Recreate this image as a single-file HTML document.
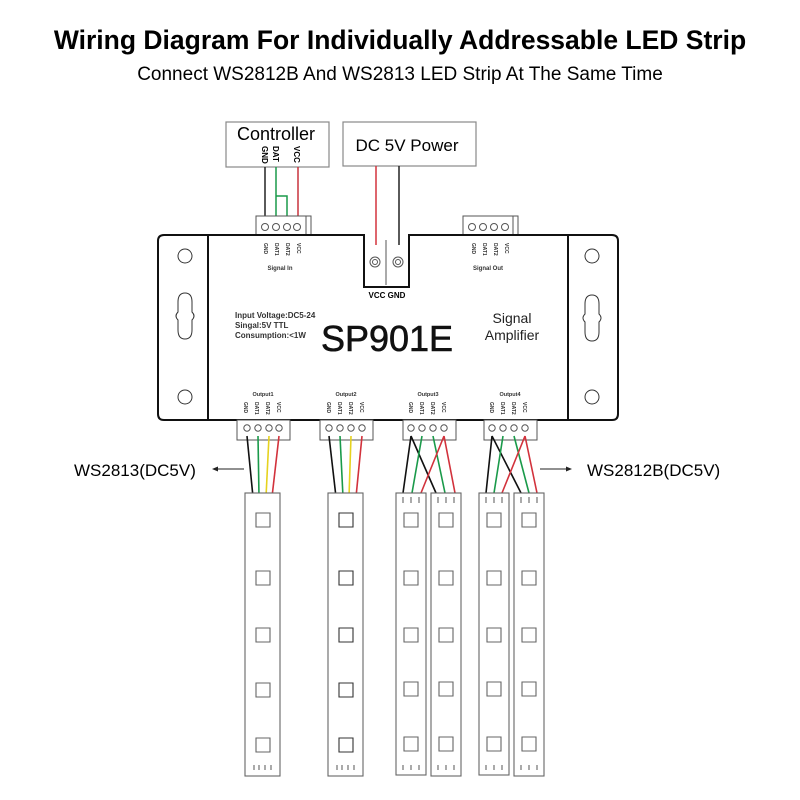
<!DOCTYPE html>
<html><head><meta charset="utf-8"><style>
html,body{margin:0;padding:0;background:#fff;}
svg{display:block;}
text{font-family:"Liberation Sans",sans-serif;}
</style></head><body>
<svg width="800" height="800" viewBox="0 0 800 800" xmlns="http://www.w3.org/2000/svg">
<text x="400" y="49" text-anchor="middle" font-size="26.5" font-weight="bold" fill="#000">Wiring Diagram For Individually Addressable LED Strip</text>
<text x="400" y="80" text-anchor="middle" font-size="19" fill="#000">Connect WS2812B And WS2813 LED Strip At The Same Time</text>

<rect x="226" y="122" width="103" height="45" fill="#fff" stroke="#888" stroke-width="1.2"/>
<text x="276" y="140" text-anchor="middle" font-size="18">Controller</text>
<g font-size="8" font-weight="bold">
<text transform="translate(262,146) rotate(90)">GND</text>
<text transform="translate(273,146) rotate(90)">DAT</text>
<text transform="translate(294,146) rotate(90)">VCC</text>
</g>
<rect x="343" y="122" width="133" height="44" fill="#fff" stroke="#888" stroke-width="1.2"/>
<text x="407" y="151" text-anchor="middle" font-size="17">DC 5V Power</text>

<path d="M265 167V218" stroke="#222" stroke-width="1.5" fill="none"/>
<path d="M276 167V218M276 196H287V218" stroke="#1a9a4a" stroke-width="1.5" fill="none"/>
<path d="M298 167V218" stroke="#c8323c" stroke-width="1.5" fill="none"/>
<path d="M376 166V245" stroke="#d2323c" stroke-width="1.5"/>
<path d="M399 166V245" stroke="#222" stroke-width="1.5"/>

<g stroke="#555" fill="#fff" stroke-width="1">
<rect x="256" y="216" width="55" height="19"/><line x1="306" y1="216" x2="306" y2="235"/>
<circle cx="265" cy="227" r="3.5"/><circle cx="276" cy="227" r="3.5"/><circle cx="287" cy="227" r="3.5"/><circle cx="297" cy="227" r="3.5"/>
<rect x="463" y="216" width="55" height="19"/><line x1="513" y1="216" x2="513" y2="235"/>
<circle cx="472" cy="227" r="3.5"/><circle cx="483" cy="227" r="3.5"/><circle cx="494" cy="227" r="3.5"/><circle cx="505" cy="227" r="3.5"/>
</g>

<path d="M164 235H364V287H409V235H612Q618 235 618 241V414Q618 420 612 420H164Q158 420 158 414V241Q158 235 164 235Z" fill="#fff" stroke="#111" stroke-width="2"/>
<line x1="208" y1="235" x2="208" y2="420" stroke="#111" stroke-width="2"/>
<line x1="568" y1="235" x2="568" y2="420" stroke="#111" stroke-width="2"/>
<g stroke="#333" fill="none" stroke-width="1">
<circle cx="185" cy="256" r="7"/><circle cx="185" cy="397" r="7"/>
<circle cx="592" cy="256" r="7"/><circle cx="592" cy="397" r="7"/>
<path d="M185 293q-7 0-7 9v10q-4 4 0 8v10q0 9 7 9q7 0 7-9v-10q4-4 0-8v-10q0-9-7-9z"/>
<path d="M592 295q-7 0-7 9v10q-4 4 0 8v10q0 9 7 9q7 0 7-9v-10q4-4 0-8v-10q0-9-7-9z"/>
</g>
<g stroke="#555" fill="#fff" stroke-width="1">
<line x1="386" y1="240" x2="386" y2="285"/>
<circle cx="375" cy="262" r="5"/><circle cx="398" cy="262" r="5"/>
<circle cx="375" cy="262" r="2.5"/><circle cx="398" cy="262" r="2.5"/>
</g>
<text x="387" y="298" text-anchor="middle" font-size="8" font-weight="bold">VCC  GND</text>

<g font-size="5" font-weight="bold" fill="#333">
<text transform="translate(264,243) rotate(90)">GND</text><text transform="translate(275,243) rotate(90)">DAT1</text><text transform="translate(286,243) rotate(90)">DAT2</text><text transform="translate(297,243) rotate(90)">VCC</text>
<text transform="translate(472,243) rotate(90)">GND</text><text transform="translate(483,243) rotate(90)">DAT1</text><text transform="translate(494,243) rotate(90)">DAT2</text><text transform="translate(505,243) rotate(90)">VCC</text>
</g>
<text x="280" y="270" text-anchor="middle" font-size="6" font-weight="bold" fill="#333">Signal In</text>
<text x="488" y="270" text-anchor="middle" font-size="6" font-weight="bold" fill="#333">Signal Out</text>

<g font-size="8" font-weight="bold" fill="#333">
<text x="235" y="318">Input Voltage:DC5-24</text>
<text x="235" y="328">Singal:5V TTL</text>
<text x="235" y="338">Consumption:&lt;1W</text>
</g>
<text x="387" y="351" text-anchor="middle" font-size="36" fill="#111" stroke="#111" stroke-width="0.6" font-family="DejaVu Sans, sans-serif">SP901E</text>
<text x="512" y="323" text-anchor="middle" font-size="14" fill="#222" font-family="DejaVu Sans, sans-serif">Signal</text>
<text x="512" y="340" text-anchor="middle" font-size="14" fill="#222" font-family="DejaVu Sans, sans-serif">Amplifier</text>

<g font-size="5.5" font-weight="bold" fill="#333">
<text x="263" y="396" text-anchor="middle">Output1</text>
<text x="346" y="396" text-anchor="middle">Output2</text>
<text x="428" y="396" text-anchor="middle">Output3</text>
<text x="510" y="396" text-anchor="middle">Output4</text>
<g font-size="5">
<text transform="translate(244,402) rotate(90)">GND</text><text transform="translate(255,402) rotate(90)">DAT1</text><text transform="translate(266,402) rotate(90)">DAT2</text><text transform="translate(277,402) rotate(90)">VCC</text>
<text transform="translate(327,402) rotate(90)">GND</text><text transform="translate(338,402) rotate(90)">DAT1</text><text transform="translate(349,402) rotate(90)">DAT2</text><text transform="translate(360,402) rotate(90)">VCC</text>
<text transform="translate(409,402) rotate(90)">GND</text><text transform="translate(420,402) rotate(90)">DAT1</text><text transform="translate(431,402) rotate(90)">DAT2</text><text transform="translate(442,402) rotate(90)">VCC</text>
<text transform="translate(490,402) rotate(90)">GND</text><text transform="translate(501,402) rotate(90)">DAT1</text><text transform="translate(512,402) rotate(90)">DAT2</text><text transform="translate(523,402) rotate(90)">VCC</text>
</g></g>
<g stroke="#555" fill="#fff" stroke-width="1">
<rect x="237" y="420" width="53" height="20"/><rect x="320" y="420" width="53" height="20"/><rect x="403" y="420" width="53" height="20"/><rect x="484" y="420" width="53" height="20"/>
<g fill="none">
<circle cx="247" cy="428" r="3.2"/><circle cx="258" cy="428" r="3.2"/><circle cx="269" cy="428" r="3.2"/><circle cx="279" cy="428" r="3.2"/>
<circle cx="329" cy="428" r="3.2"/><circle cx="340" cy="428" r="3.2"/><circle cx="351" cy="428" r="3.2"/><circle cx="362" cy="428" r="3.2"/>
<circle cx="411" cy="428" r="3.2"/><circle cx="422" cy="428" r="3.2"/><circle cx="433" cy="428" r="3.2"/><circle cx="444" cy="428" r="3.2"/>
<circle cx="492" cy="428" r="3.2"/><circle cx="503" cy="428" r="3.2"/><circle cx="514" cy="428" r="3.2"/><circle cx="525" cy="428" r="3.2"/>
</g></g>

<g stroke-width="1.6" fill="none">
<path d="M247 436L253 497" stroke="#111"/><path d="M258 436L259 497" stroke="#1a9a4a"/><path d="M269 436L266 497" stroke="#e6d21e"/><path d="M279 436L272 497" stroke="#d2323c"/>
<path d="M329 436L336 497" stroke="#111"/><path d="M340 436L343 497" stroke="#1a9a4a"/><path d="M351 436L349 497" stroke="#e6d21e"/><path d="M362 436L356 497" stroke="#d2323c"/>
<path d="M411 436L403 493M411 436L436 493" stroke="#111"/>
<path d="M422 436L412 493M433 436L445 493" stroke="#1a9a4a"/>
<path d="M444 436L421 493M444 436L455 493" stroke="#d2323c"/>
<path d="M492 436L486 493M492 436L521 493" stroke="#111"/>
<path d="M503 436L494 493M514 436L529 493" stroke="#1a9a4a"/>
<path d="M525 436L502 493M525 436L537 493" stroke="#d2323c"/>
</g>

<line x1="244" y1="469" x2="216" y2="469" stroke="#222" stroke-width="1"/>
<path d="M212 469l6-2.5v5z" fill="#222"/>
<line x1="540" y1="469" x2="568" y2="469" stroke="#222" stroke-width="1"/>
<path d="M572 469l-6-2.5v5z" fill="#222"/>
<text x="74" y="476" font-size="17">WS2813(DC5V)</text>
<text x="587" y="476" font-size="17">WS2812B(DC5V)</text>

<g stroke="#666" fill="#fff" stroke-width="1.1">
<rect x="245" y="493" width="35" height="283"/>
<rect x="328" y="493" width="35" height="283"/>
<rect x="396" y="493" width="30" height="282"/>
<rect x="431" y="493" width="30" height="283"/>
<rect x="479" y="493" width="30" height="282"/>
<rect x="514" y="493" width="30" height="283"/>
<g fill="none">
<path d="M256 513h14v14h-14zM256 571h14v14h-14zM256 628h14v14h-14zM256 683h14v14h-14zM256 738h14v14h-14z"/>
<path d="M339 513h14v14h-14zM339 571h14v14h-14zM339 628h14v14h-14zM339 683h14v14h-14zM339 738h14v14h-14z" stroke="#333"/>
<path d="M404 513h14v14h-14zM404 571h14v14h-14zM404 628h14v14h-14zM404 682h14v14h-14zM404 737h14v14h-14z"/>
<path d="M439 513h14v14h-14zM439 571h14v14h-14zM439 628h14v14h-14zM439 682h14v14h-14zM439 737h14v14h-14z"/>
<path d="M487 513h14v14h-14zM487 571h14v14h-14zM487 628h14v14h-14zM487 682h14v14h-14zM487 737h14v14h-14z"/>
<path d="M522 513h14v14h-14zM522 571h14v14h-14zM522 628h14v14h-14zM522 682h14v14h-14zM522 737h14v14h-14z"/>
<path d="M403 497v6M411 497v6M419 497v6M438 497v6M446 497v6M454 497v6M486 497v6M494 497v6M502 497v6M521 497v6M529 497v6M537 497v6"/>
<path d="M254 765v5M259 765v5M265 765v5M271 765v5M337 765v5M342 765v5M348 765v5M354 765v5"/>
<path d="M403 765v5M411 765v5M419 765v5M438 765v5M446 765v5M454 765v5M486 765v5M494 765v5M502 765v5M521 765v5M529 765v5M537 765v5"/>
</g></g>
</svg>
</body></html>
